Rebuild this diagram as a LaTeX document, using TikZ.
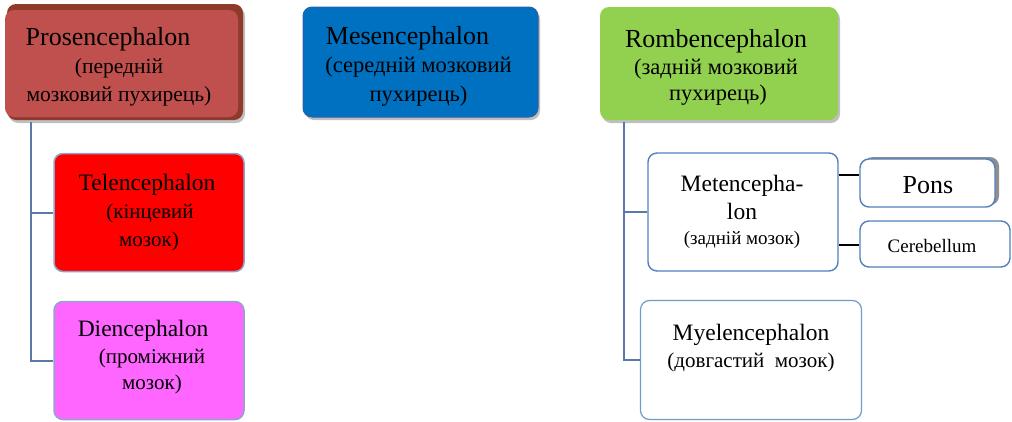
\documentclass[tikz,border=0pt]{standalone}
\usepackage{fontspec}
\setmainfont{Liberation Serif}
\usetikzlibrary{shadows}
\definecolor{prosred}{HTML}{C0504D}
\definecolor{prosdark}{HTML}{8E3B2C}
\definecolor{mesblue}{HTML}{0070C0}
\definecolor{mesedge}{HTML}{2A62A8}
\definecolor{romgreen}{HTML}{92D050}
\definecolor{telred}{HTML}{FF0000}
\definecolor{dienpink}{HTML}{FF66FF}
\definecolor{paleedge}{HTML}{8CA6C9}
\definecolor{boxblue}{HTML}{4F81BD}
\definecolor{treeline}{HTML}{5A78A8}
\tikzset{
  base/.style={rounded corners=9pt, inner sep=0pt},
  label text/.style={align=center, inner sep=0pt, font=\fontsize{21}{28}\selectfont},
  topbox/.style={base, drop shadow={shadow xshift=2pt, shadow yshift=-3pt,
    fill=black, opacity=.25}},
  subbox/.style={base, draw=paleedge, line width=1.5pt},
  whitebox/.style={base, fill=white, draw=boxblue, line width=1.4pt},
  tree/.style={draw=treeline, line width=2pt},
  twig/.style={draw=black, line width=1.6pt},
}
\newcommand{\ttl}[1]{{\fontsize{26}{28}\selectfont #1}}
\newcommand{\midtxt}[1]{{\fontsize{23.5}{28}\selectfont #1}}
\begin{document}
\begin{tikzpicture}[x=1pt,y=-1pt]
\useasboundingbox (0,0) rectangle (1012,421);

% forebrain vesicle with its bevelled back plate
\node[topbox, fill=prosdark, minimum width=236pt, minimum height=116pt] (prosback) at (125,62) {};
\node[base, fill=prosred, minimum width=233pt, minimum height=107pt] (pros) at (121.5,63.5) {};
\node[label text, font=\fontsize{21.5}{28}\selectfont] (prostext) at (119,67)
  {\ttl{Prosencephalon}\hspace*{22pt}\\(передній\\мозковий пухирець)};

% midbrain vesicle
\node[topbox, fill=mesblue, draw=mesedge, line width=1pt, minimum width=235pt, minimum height=110pt] (mes) at (420.5,62) {};
\node[label text, font=\fontsize{22.5}{28.5}\selectfont] (mestext) at (418.5,66)
  {\ttl{Mesencephalon}\hspace*{22pt}\\(середній мозковий\\пухирець)};

% hindbrain vesicle
\node[topbox, fill=romgreen, minimum width=238pt, minimum height=113pt] (rom) at (719,63.5) {};
\node[label text, font=\fontsize{22.5}{26.5}\selectfont] (romtext) at (716,67.5)
  {\ttl{Rombencephalon}\\(задній мозковий\\\hspace*{4pt}пухирець)};

% forebrain branches
\node[subbox, fill=telred, minimum width=190pt, minimum height=118pt] (tel) at (149,212.5) {};
\node[label text] (teltext) at (147,213)
  {\midtxt{Telencephalon}\\\hspace*{6pt}(кінцевий\\\hspace*{4pt}мозок)};
\node[subbox, fill=dienpink, minimum width=190pt, minimum height=118pt] (dien) at (149,360.5) {};
\node[label text, font=\fontsize{21}{26.5}\selectfont] (dientext) at (146,357.5)
  {\midtxt{Diencephalon}\hspace*{6pt}\\\hspace*{12pt}(проміжний\\\hspace*{12pt}мозок)};

% hindbrain branches
\node[whitebox, minimum width=190pt, minimum height=118pt] (met) at (743,212) {};
\node[label text] (mettext) at (742,211.5)
  {\midtxt{Metencepha-}\\\midtxt{lon}\\[-3pt]{\fontsize{19}{24}\selectfont(задній мозок)}};
\node[whitebox, draw=boxblue!80, line width=1.2pt, minimum width=221pt, minimum height=119pt] (myel) at (751,360) {};
\node[label text, font=\fontsize{21}{27}\selectfont] (myeltext) at (751,348)
  {\midtxt{Myelencephalon}\\(довгастий\ \ мозок)};

% parts of the metencephalon
\node[whitebox, minimum width=135pt, minimum height=48pt,
  drop shadow={shadow xshift=4pt, shadow yshift=2pt, fill=black!55, opacity=.8}] (pons) at (927.5,183) {};
\node[label text, font=\fontsize{26}{28}\selectfont] (ponstext) at (928,185) {Pons};
\node[whitebox, minimum width=150pt, minimum height=46pt] (cereb) at (935,244) {};
\node[label text, font=\fontsize{19}{24}\selectfont] (cerebtext) at (932,245.5) {Cerebellum};

% tree connectors
\coordinate (lt) at (31,122);
\coordinate (rt) at (624,122);
\draw[tree] (lt) |- (dien.west);
\draw[tree] (lt |- tel.west) -- (tel.west);
\draw[tree] (rt) |- (myel.west);
\draw[tree] (rt |- met.west) -- (met.west);
\draw[twig] (met.east |- 0,175) -- (pons.west |- 0,175);
\draw[twig] (met.east |- 0,245) -- (cereb.west |- 0,245);
\end{tikzpicture}
\end{document}
